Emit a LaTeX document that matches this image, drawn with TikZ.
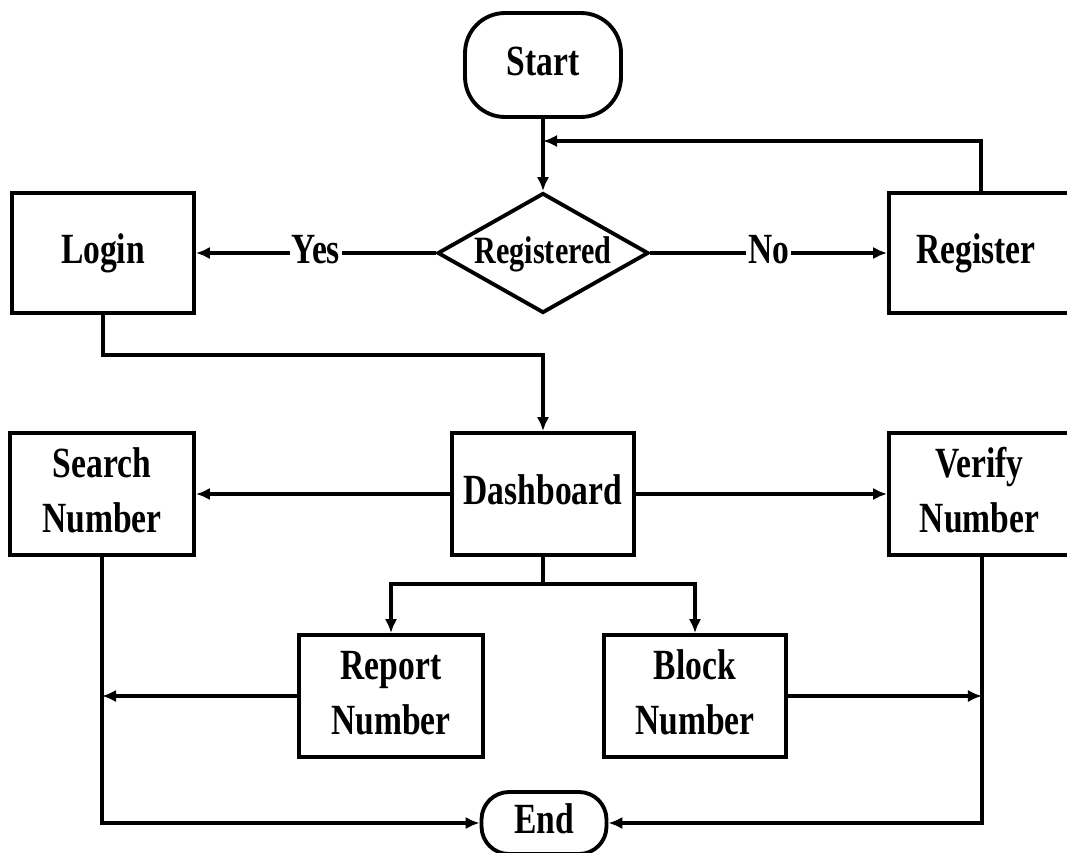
\documentclass[tikz,border=0pt]{standalone}
\usepackage{fontspec}
\setmainfont{Liberation Serif}
\usepackage{graphicx}
\usetikzlibrary{shapes.geometric,arrows.meta}
\newcommand{\lbl}[1]{\scalebox{0.78}[1]{\begin{tabular}{@{}c@{}}#1\end{tabular}}}
\tikzset{
  every node/.style={font=\fontsize{24.5pt}{31pt}\selectfont\bfseries, inner sep=0pt},
  stepbox/.style={draw, line width=2.2pt, rectangle},
  term/.style={draw, line width=2.2pt, rectangle, rounded corners=0.8cm},
  decide/.style={draw, line width=2.2pt, diamond, aspect=1.76},
  conn/.style={line width=2pt, -{Latex[length=8pt,width=7pt]}},
  plain/.style={line width=2pt},
  tag/.style={fill=white, inner xsep=1pt}
}
\begin{document}
\begin{tikzpicture}[x=0.02cm, y=-0.02cm]
\useasboundingbox (0,0) rectangle (1067,852);
\clip (0,0) rectangle (1067,852);

% terminals and decision
\node[term, minimum width=3.12cm, minimum height=2.08cm] (start) at (543,65) {\lbl{Start}};
\node[decide, minimum width=4.22cm, minimum height=2.4cm] (reg) at (543,253) {};
\node (regtxt) at (543,254) {\fontsize{22pt}{26pt}\selectfont\lbl{Registered}};

% first row of boxes
\node[stepbox, minimum width=3.64cm, minimum height=2.4cm] (login) at (103,253) {\lbl{Login}};
\node[stepbox, minimum width=3.68cm, minimum height=2.4cm] (register) at (981,253) {\hspace*{-0.2cm}\lbl{Register}};

% second row
\node[stepbox, minimum width=3.64cm, minimum height=2.44cm] (dash) at (543,494) {\lbl{Dashboard}};
\node[stepbox, minimum width=3.68cm, minimum height=2.44cm] (search) at (102,494) {\lbl{Search\\Number}};
\node[stepbox, minimum width=3.72cm, minimum height=2.44cm] (verify) at (982,494) {\hspace*{-0.1cm}\lbl{Verify\\Number}};

% third row
\node[stepbox, minimum width=3.68cm, minimum height=2.44cm] (report) at (391,696) {\lbl{Report\\Number}};
\node[stepbox, minimum width=3.64cm, minimum height=2.44cm] (block) at (695,696) {\lbl{Block\\Number}};

% end terminal
\node[term, rounded corners=0.55cm, minimum width=2.5cm, minimum height=1.24cm] (end) at (544,823) {\lbl{End}};

% junction points
\coordinate (j1) at (543,141);
\coordinate (j2) at (543,355);
\coordinate (j3) at (543,584);

% connectors
\draw[conn] (start.south) -- (reg.north);
\draw[conn] (register.north) |- (j1);
\draw[conn] (reg.west) -- node[tag] (yes) {\lbl{Yes}} (login.east);
\draw[conn] (reg.east) -- node[tag] (no) {\lbl{No}} (register.west);
\draw[conn] (login.south) |- (j2) -- (dash.north);
\draw[conn] (dash.west) -- (search.east);
\draw[conn] (dash.east) -- (verify.west);
\draw[plain] (dash.south) -- (j3);
\draw[conn] (j3) -| (report.north);
\draw[conn] (j3) -| (block.north);
\draw[conn] (report.west) -- (report.west -| search.south);
\draw[conn] (block.east) -- (block.east -| verify.south);
\draw[conn] (search.south) |- (end.west);
\draw[conn] (verify.south) |- (end.east);
\end{tikzpicture}
\end{document}
